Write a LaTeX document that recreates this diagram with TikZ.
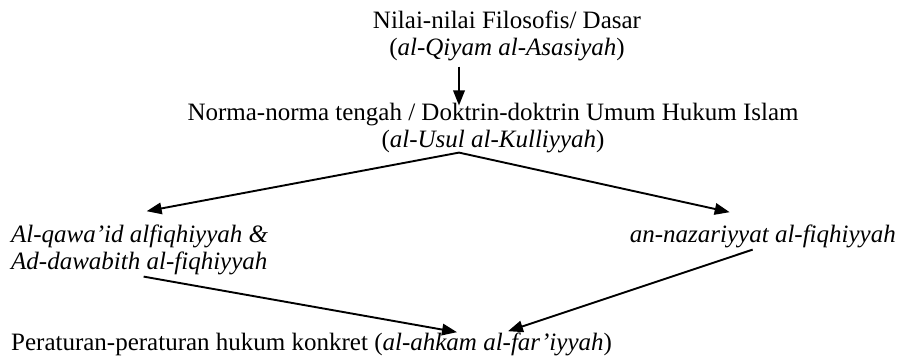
\documentclass[tikz,border=0pt]{standalone}
\usepackage{fontspec}
\setmainfont{Liberation Serif}
\usetikzlibrary{arrows.meta}

\begin{document}
\begin{tikzpicture}[
    x=1pt, y=-1pt,
    lbl/.style={inner sep=0pt, font=\fontsize{25}{27}\selectfont},
    flow/.style={line width=1.9pt, -{Triangle[length=15pt,width=11.5pt]}},
  ]
\useasboundingbox (0,0) rectangle (900,357);

% Two upper levels, stacked in the middle (base = last line).
\node[lbl, align=center, anchor=base] (nilai) at (507,55)
  {Nilai-nilai Filosofis/ Dasar\\(\textit{al-Qiyam al-Asasiyah})};
\node[lbl, align=center, anchor=base] (norma) at (493,147)
  {Norma-norma tengah / Doktrin-doktrin Umum Hukum Islam\\
   (\textit{al-Usul al-Kulliyyah})};

% The two kinds of maxims, left and right.
\node[lbl, align=left, anchor=base west] (qawaid) at (11,269)
  {\textit{Al-qawa'id alfiqhiyyah \&}\\\textit{Ad-dawabith al-fiqhiyyah}};
\node[lbl, anchor=base east] (nazar) at (896,242)
  {\textit{an-nazariyyat al-fiqhiyyah}};

% Concrete rules at the bottom.
\node[lbl, anchor=base west] (hukum) at (11,350)
  {Peraturan-peraturan hukum konkret (\textit{al-ahkam al-far'iyyah})};

\coordinate (apex) at ([xshift=-34pt]norma.south);
\draw[flow, shorten <=6pt, shorten >=-3pt] (nilai.south -| apex) -- (norma.north -| apex);
\draw[flow] (apex) -- ([xshift=7pt,yshift=13pt]qawaid.north);
\draw[flow] (apex) -- ([xshift=100pt,yshift=12pt]nazar.north west);
\draw[flow] ([xshift=4pt,yshift=-2pt]qawaid.south) -- ([xshift=446pt]hukum.north west);
\draw[flow] ([xshift=123pt,yshift=-2pt]nazar.south west) -- ([xshift=497pt,yshift=1pt]hukum.north west);

\end{tikzpicture}
\end{document}
